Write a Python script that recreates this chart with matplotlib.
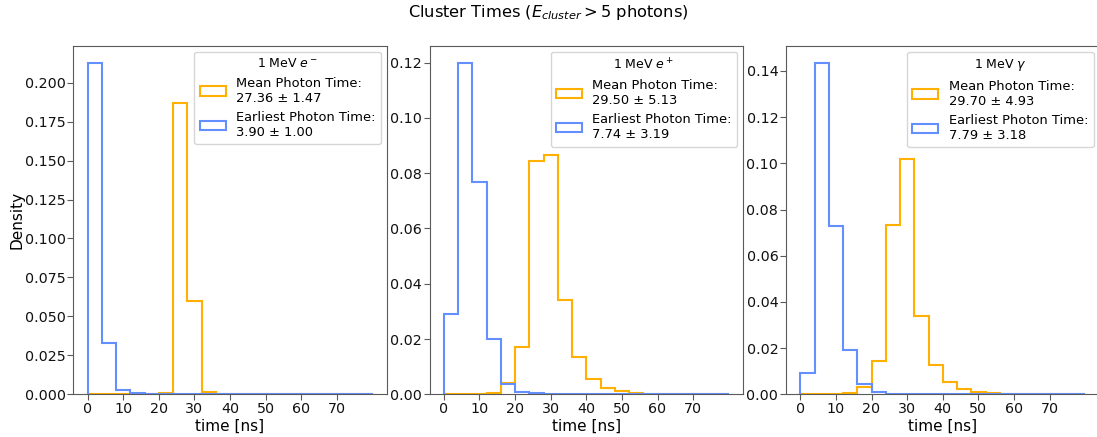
import numpy as np
import matplotlib
matplotlib.use("Agg")
import matplotlib.pyplot as plt

# bin edges (ns)
bin_edges = list(range(0, 81, 4))

# densities per 4 ns bin (20 bins: 0-4, 4-8, ..., 76-80)
em_mean = [0.0001, 0.0001, 0.0001, 0.0001, 0.0002, 0.0011, 0.1868, 0.0596, 0.0013, 0.0004,
           0.0001, 0.0, 0.0, 0.0, 0.0, 0.0, 0.0, 0.0, 0.0, 0.0]
em_first = [0.2129, 0.0328, 0.0028, 0.0009, 0.0003, 0.0001, 0.0, 0.0, 0.0, 0.0,
            0.0, 0.0, 0.0, 0.0, 0.0, 0.0, 0.0, 0.0, 0.0, 0.0]

ep_mean = [0.0, 0.0, 0.0001, 0.0006, 0.0040, 0.0171, 0.0843, 0.0865, 0.0340, 0.0136,
           0.0057, 0.0023, 0.0012, 0.0005, 0.0002, 0.0001, 0.0, 0.0, 0.0, 0.0]
ep_first = [0.0291, 0.1200, 0.0767, 0.0199, 0.0036, 0.0007, 0.0003, 0.0001, 0.0, 0.0,
            0.0, 0.0, 0.0, 0.0, 0.0, 0.0, 0.0, 0.0, 0.0, 0.0]

g_mean = [0.0, 0.0, 0.0001, 0.0005, 0.0032, 0.0146, 0.0735, 0.1017, 0.0337, 0.0126,
          0.0054, 0.0025, 0.0012, 0.0004, 0.0002, 0.0001, 0.0, 0.0, 0.0, 0.0]
g_first = [0.0091, 0.1436, 0.0727, 0.0192, 0.0043, 0.0009, 0.0003, 0.0001, 0.0, 0.0,
           0.0, 0.0, 0.0, 0.0, 0.0, 0.0, 0.0, 0.0, 0.0, 0.0]

panel_titles = [r"1 MeV $e^-$", r"1 MeV $e^+$", r"1 MeV $\gamma$"]
mean_labels = ["Mean Photon Time:\n27.36 ± 1.47", "Mean Photon Time:\n29.50 ± 5.13", "Mean Photon Time:\n29.70 ± 4.93"]
first_labels = ["Earliest Photon Time:\n3.90 ± 1.00", "Earliest Photon Time:\n7.74 ± 3.19", "Earliest Photon Time:\n7.79 ± 3.18"]
mean_series = [em_mean, ep_mean, g_mean]
first_series = [em_first, ep_first, g_first]
x_ticks = [0, 10, 20, 30, 40, 50, 60, 70]

c_mean = "#FFB000"
c_first = "#648FFF"
spine_c = "#5a5a5a"

fig = plt.figure(figsize=(10.97, 4.37), dpi=100)
W, H = 1097.0, 437.0
lefts = [73.3, 429.5, 786.0]
width = 313.5
bottom = 1 - 394.3 / H
height = (394.3 - 46.0) / H

edges = np.array(bin_edges, dtype=float)
centers = (edges[:-1] + edges[1:]) / 2

for i in range(3):
    ax = fig.add_axes([lefts[i] / W, bottom, width / W, height])
    ax.hist(centers, bins=edges, weights=mean_series[i], histtype="step",
            color=c_mean, lw=1.5, label=mean_labels[i])
    ax.hist(centers, bins=edges, weights=first_series[i], histtype="step",
            color=c_first, lw=1.5, label=first_labels[i])
    ax.set_xticks(x_ticks)
    ax.tick_params(labelsize=10.3, color=spine_c, length=4, pad=1.5, labelcolor="#111111")
    for s in ax.spines.values():
        s.set_color(spine_c)
    ax.set_xlabel("time [ns]", fontsize=11, labelpad=2)
    ax.legend(title=panel_titles[i], loc="upper right", fontsize=9.4,
              title_fontsize=9, borderaxespad=0.45)
    if i == 0:
        ax.set_ylabel("Density", fontsize=11)
        ax.yaxis.set_label_coords((24.5 - 73.3) / width, 0.5)

fig.suptitle(r"Cluster Times ($E_{cluster} > 5$ photons)", fontsize=11.7,
             x=0.5, y=1 - 13 / H, va="center")

fig.savefig("out.png", dpi=100)
